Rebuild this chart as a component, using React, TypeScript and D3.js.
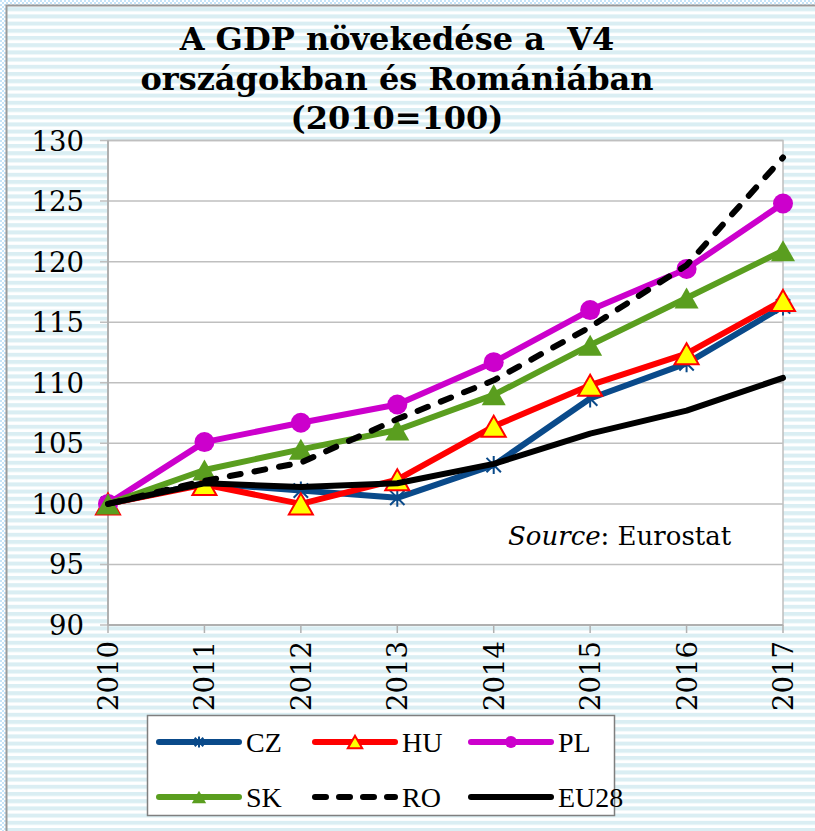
import React from "react";
import * as d3 from "d3";

// GDP index, 2010 = 100
const years = [2010, 2011, 2012, 2013, 2014, 2015, 2016, 2017];
const czValues = [100, 101.7, 101.1, 100.5, 103.2, 108.7, 111.6, 116.3];
const huValues = [100, 101.6, 100.0, 102.0, 106.4, 109.8, 112.4, 116.8];
const plValues = [100, 105.1, 106.7, 108.2, 111.7, 116.0, 119.4, 124.8];
const skValues = [100, 102.8, 104.5, 106.1, 109.0, 113.1, 117.0, 120.9];
const roValues = [100, 101.9, 103.4, 107.0, 110.2, 114.6, 119.7, 128.6];
const euValues = [100, 101.7, 101.4, 101.7, 103.3, 105.8, 107.7, 110.4];
const yTicks = [90, 95, 100, 105, 110, 115, 120, 125, 130];
const titleLines = ["A GDP növekedése a  V4", "országokban és Romániában", "(2010=100)"];

const series = [
    { name: "CZ", values: czValues, color: "#0a4a8a", marker: "star", dash: null },
    { name: "HU", values: huValues, color: "#ff0000", marker: "triYellow", dash: null },
    { name: "PL", values: plValues, color: "#cc00cc", marker: "circle", dash: null },
    { name: "SK", values: skValues, color: "#5a9e1f", marker: "tri", dash: null },
    { name: "RO", values: roValues, color: "#000000", marker: null, dash: "11,14" },
    { name: "EU28", values: euValues, color: "#000000", marker: null, dash: null },
];

const W = 815;
const H = 831;
const serif = "'DejaVu Serif', serif";
const times = "'Liberation Serif', 'Times New Roman', serif";

function drawMarker(g, type, x, y, scale, color) {
    if (type === "circle") {
        g.append("circle").attr("cx", x).attr("cy", y).attr("r", 10 * scale).attr("fill", color);
    } else if (type === "tri" || type === "triYellow") {
        const w = 24 * scale;
        const h = 21 * scale;
        const pts = [[x, y - h / 2], [x + w / 2, y + h / 2], [x - w / 2, y + h / 2]];
        g.append("polygon")
            .attr("points", pts.map((p) => p.join(",")).join(" "))
            .attr("fill", type === "tri" ? color : "#ffff00")
            .attr("stroke", type === "tri" ? "none" : color)
            .attr("stroke-width", 2)
            .attr("stroke-linejoin", "miter");
    } else if (type === "star") {
        const r = 9 * scale;
        const d = r * 0.8;
        const path = `M${x},${y - r}L${x},${y + r}M${x - d},${y - d}L${x + d},${y + d}M${x - d},${y + d}L${x + d},${y - d}`;
        g.append("path").attr("d", path).attr("stroke", color).attr("stroke-width", 2).attr("fill", "none");
    }
}

export default function App() {
    const ref = React.useRef(null);

    React.useEffect(() => {
        drawChart();
    }, []);

    function drawChart() {
        d3.select(ref.current).selectAll("*").remove();
        const svg = d3
            .select(ref.current)
            .append("svg")
            .attr("width", W)
            .attr("height", H)
            .style("position", "absolute")
            .style("left", "0px")
            .style("top", "0px");

        const defs = svg.append("defs");
        const stripes = defs
            .append("pattern")
            .attr("id", "stripes")
            .attr("patternUnits", "userSpaceOnUse")
            .attr("width", 8)
            .attr("height", 7.2);
        stripes.append("rect").attr("width", 8).attr("height", 7.2).attr("fill", "#ffffff");
        stripes.append("rect").attr("y", 0).attr("width", 8).attr("height", 4).attr("fill", "#daeef3");

        const checker = defs
            .append("pattern")
            .attr("id", "checker")
            .attr("patternUnits", "userSpaceOnUse")
            .attr("width", 4)
            .attr("height", 4);
        checker.append("rect").attr("width", 4).attr("height", 4).attr("fill", "#ffffff");
        checker.append("rect").attr("width", 2).attr("height", 2).attr("fill", "#c6e4f8");
        checker.append("rect").attr("x", 2).attr("y", 2).attr("width", 2).attr("height", 2).attr("fill", "#c6e4f8");

        // background
        svg.append("rect").attr("width", W).attr("height", H).attr("fill", "url(#checker)");
        svg.append("rect").attr("x", 6).attr("y", 5).attr("width", W).attr("height", H).attr("fill", "url(#stripes)");
        svg.append("path").attr("d", `M6.5,${H}V5.5H${W}`).attr("stroke", "#9a9a9a").attr("stroke-width", 2).attr("fill", "none");

        // title
        const title = svg
            .append("text")
            .attr("text-anchor", "middle")
            .attr("font-family", serif)
            .attr("font-weight", "bold")
            .attr("font-size", 32)
            .attr("fill", "#000");
        titleLines.forEach((t, i) => {
            title.append("tspan").attr("x", 397).attr("y", 50 + i * 39.5).attr("xml:space", "preserve").text(t);
        });

        const left = 108;
        const right = 783;
        const top = 140.5;
        const bottom = 625;

        const x = d3.scaleLinear().domain([2010, 2017]).range([left, right]);
        const y = d3.scaleLinear().domain([90, 130]).range([bottom, top]);

        svg.append("rect")
            .attr("x", left)
            .attr("y", top)
            .attr("width", right - left)
            .attr("height", bottom - top)
            .attr("fill", "#ffffff")
            .attr("stroke", "#bfbfbf")
            .attr("stroke-width", 1.5);

        // gridlines
        svg.append("g")
            .selectAll("line")
            .data(yTicks)
            .enter()
            .append("line")
            .attr("x1", left - 8)
            .attr("x2", right)
            .attr("y1", (d) => y(d))
            .attr("y2", (d) => y(d))
            .attr("stroke", "#bfbfbf")
            .attr("stroke-width", 1.5);

        // axes lines
        svg.append("line").attr("x1", left).attr("x2", left).attr("y1", top).attr("y2", bottom).attr("stroke", "#b0b0b0").attr("stroke-width", 2);
        svg.append("line").attr("x1", left).attr("x2", right).attr("y1", bottom).attr("y2", bottom).attr("stroke", "#b0b0b0").attr("stroke-width", 2);

        svg.append("g")
            .selectAll("line")
            .data(years)
            .enter()
            .append("line")
            .attr("x1", (d) => x(d))
            .attr("x2", (d) => x(d))
            .attr("y1", bottom)
            .attr("y2", bottom + 8)
            .attr("stroke", "#b0b0b0")
            .attr("stroke-width", 1.5);

        // y labels
        svg.append("g")
            .selectAll("text")
            .data(yTicks)
            .enter()
            .append("text")
            .attr("x", 84)
            .attr("y", (d) => y(d) + 10)
            .attr("text-anchor", "end")
            .attr("font-family", serif)
            .attr("font-size", 27.5)
            .text((d) => d);

        // x labels
        svg.append("g")
            .selectAll("text")
            .data(years)
            .enter()
            .append("text")
            .attr("transform", (d) => `translate(${x(d) + 10},641) rotate(-90)`)
            .attr("text-anchor", "end")
            .attr("font-family", serif)
            .attr("font-size", 27.5)
            .text((d) => d);

        // source
        const src = svg
            .append("text")
            .attr("x", 508)
            .attr("y", 545)
            .attr("font-family", serif)
            .attr("font-size", 26);
        src.append("tspan").attr("font-style", "italic").text("Source");
        src.append("tspan").text(": Eurostat");

        // series
        const line = d3
            .line()
            .x((d, i) => x(years[i]))
            .y((d) => y(d));

        series.forEach((s) => {
            const g = svg.append("g");
            g.append("path")
                .datum(s.values)
                .attr("d", line)
                .attr("fill", "none")
                .attr("stroke", s.color)
                .attr("stroke-width", 6)
                .attr("stroke-linejoin", "round")
                .attr("stroke-linecap", "round")
                .attr("stroke-dasharray", s.dash);
            if (s.marker) {
                s.values.forEach((v, i) => drawMarker(g, s.marker, x(years[i]), y(v), 1, s.color));
            }
        });

        // legend
        const lg = svg.append("g");
        lg.append("rect")
            .attr("x", 147.5)
            .attr("y", 715.5)
            .attr("width", 467)
            .attr("height", 100)
            .attr("fill", "#ffffff")
            .attr("stroke", "#7f7f7f")
            .attr("stroke-width", 1.5);

        series.forEach((s, i) => {
            const col = i % 3;
            const row = Math.floor(i / 3);
            const lx = 159 + col * 156;
            const ly = 742 + row * 55;
            lg.append("line")
                .attr("x1", lx)
                .attr("x2", lx + 80)
                .attr("y1", ly)
                .attr("y2", ly)
                .attr("stroke", s.color)
                .attr("stroke-width", 6)
                .attr("stroke-linecap", "round")
                .attr("stroke-dasharray", s.dash ? "11,13" : null);
            if (s.marker) drawMarker(lg, s.marker, lx + 40, ly, 0.6, s.color);
            lg.append("text")
                .attr("x", lx + 87)
                .attr("y", ly + 10)
                .attr("font-family", times)
                .attr("font-size", 28)
                .text(s.name);
        });
    }

    return <div ref={ref} />;
}
